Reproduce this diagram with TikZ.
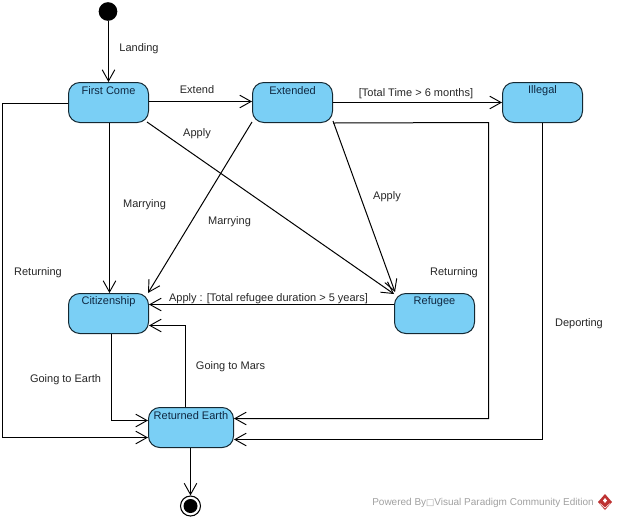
\documentclass[tikz,border=0pt]{standalone}
\usepackage{fontspec}
\setmainfont{Liberation Sans}
\newfontfamily\symfont{DejaVu Sans}
\usetikzlibrary{arrows.meta,calc,shapes.geometric}
\definecolor{statefill}{RGB}{122,207,245}
\definecolor{stateline}{RGB}{20,40,50}
\definecolor{statetextcol}{RGB}{15,40,65}
\definecolor{wmgray}{RGB}{160,160,160}
\definecolor{wmred}{RGB}{190,50,50}
\tikzset{
  x=0.75pt,y=-0.75pt,
  statebox/.style={draw=stateline,fill=statefill,line width=0.75pt,rounded corners=8.5pt,minimum width=60pt,minimum height=30pt,inner sep=0pt},
  flow/.style={draw=black,line width=0.75pt,-{Straight Barb[length=8.5pt,width=9.5pt,line width=0.7pt]}},
  lbl/.style={font=\fontsize{8.25}{10}\selectfont,inner sep=0pt,text=black!85},
}
\newcommand{\statetext}[3]{\node[lbl,text=statetextcol] (#2) at ($(#1.north)+(0,9)$) {#3};}
\begin{document}
\begin{tikzpicture}
\useasboundingbox (0,0) rectangle (617,519);
\node[statebox] (first) at (108.5,102.5) {};
\node[statebox] (ext) at (292.5,102.5) {};
\node[statebox] (ill) at (542.5,102.5) {};
\node[statebox] (cit) at (108.5,313.5) {};
\node[statebox] (ref) at (434.5,313.5) {};
\node[statebox,minimum width=63.75pt] (ret) at (191,427.5) {};
\node[circle,fill=black,inner sep=0pt,minimum size=14pt] (init) at (108,11.5) {};
\node[circle,draw=black,line width=0.8pt,fill=white,inner sep=0pt,minimum size=15pt] (fin) at (190.5,506) {};
\node[circle,fill=black,inner sep=0pt,minimum size=10.5pt] (finin) at (190.5,506) {};
\statetext{first}{tfirst}{First Come}
\statetext{ext}{text}{Extended}
\statetext{ill}{till}{Illegal}
\statetext{cit}{tcit}{Citizenship}
\statetext{ref}{tref}{Refugee}
\statetext{ret}{tret}{Returned Earth}
\coordinate (b1) at (2.5,103.5);
\coordinate (b2) at (2.5,437.5);
\coordinate (b3) at (488.5,122.5);
\coordinate (b4) at (488.5,418.5);
\coordinate (b5) at (542.5,439.5);
\coordinate (b6) at (185.5,325.5);
\coordinate (b7) at (111.5,420.5);
\draw[flow] (init.south -| first.north) -- (first.north);
\draw[flow] ($(first.east)+(0,-1)$) -- ($(ext.west)+(0,-1)$);
\draw[flow] (ext.east) -- (ill.west);
\draw[flow] ($(first.south)+(1,0)$) -- ($(cit.north)+(1,0)$);
\draw[flow] ($(first.south east)+(-2,-1)$) -- ($(ref.north west)+(0,1)$);
\draw[flow] ($(ext.south west)+(0,-1)$) -- ($(cit.north east)+(-1,0)$);
\draw[flow] ($(ext.south east)+(0,-2)$) -- ($(ref.north west)+(1,-1)$);
\draw[flow] ($(ref.west)+(0,-9)$) -- ($(cit.east)+(0,-9)$);
\draw[flow] ($(first.west)+(0,1)$) -- (b1) -- (b2) -- ($(ret.west)+(0,10)$);
\draw[flow] (ext.south east) -- (b3) -- (b4) -- ($(ret.east)+(0,-9)$);
\draw[flow] (ill.south) -- (b5) -- ($(ret.east)+(0,12)$);
\draw[flow] (ret.north -| b6) -- (b6) -- ($(cit.east)+(0,12)$);
\draw[flow] (cit.south -| b7) -- (b7) -- ($(ret.west)+(0,-7)$);
\draw[flow] (ret.south -| fin.north) -- (fin.north);
\node[lbl] (l1) at (139,49) {Landing};
\node[lbl] (l2) at (197,89.5) {Extend};
\node[lbl] (l3) at (197,134) {Apply};
\node[lbl] (l4) at (144.5,205) {Marrying};
\node[lbl] (l5) at (229.5,222) {Marrying};
\node[lbl] (l6) at (416,94) {[Total Time > 6 months]};
\node[lbl] (l7) at (387,197) {Apply};
\node[lbl] (l8) at (454,273) {Returning};
\node[lbl] (l9) at (38,273) {Returning};
\node[lbl] (l10) at (268.5,299) {Apply : [Total refugee duration > 5 years]};
\node[lbl] (l11) at (65.5,380) {Going to Earth};
\node[lbl] (l12) at (230.5,367) {Going to Mars};
\node[lbl] (l13) at (579,324) {Deporting};
\node[font=\fontsize{7.5}{10}\selectfont,text=wmgray,inner sep=0pt] (wm) at (483,503) {Powered By{\symfont\fontsize{6.5}{8}\selectfont □}Visual Paradigm Community Edition};
\coordinate (logoc) at (605,502);
\fill[wmred] ($(logoc)+(-7,0)$) -- ($(logoc)+(0,-8)$) -- ($(logoc)+(7,0)$) -- ($(logoc)+(0,8)$) -- cycle;
\fill[white] ($(logoc)+(-2,-1.5)$) -- ($(logoc)+(0,-4)$) -- ($(logoc)+(2,-1.5)$) -- ($(logoc)+(0,1)$) -- cycle;
\draw[white,line width=0.4pt] ($(logoc)+(-5,1.5)$) -- ($(logoc)+(0,6)$) -- ($(logoc)+(5,1.5)$);
\end{tikzpicture}
\end{document}
